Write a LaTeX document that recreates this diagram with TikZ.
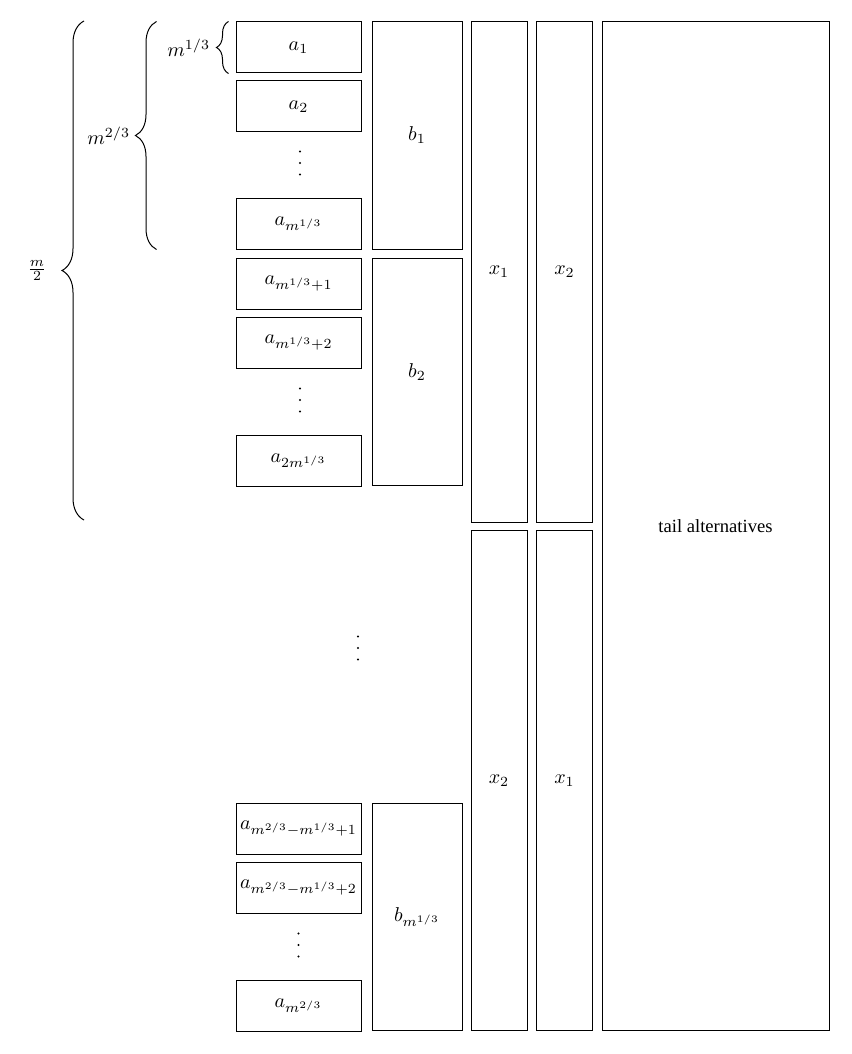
\documentclass[tikz,border=0pt]{standalone}
\usepackage{amsmath,amssymb}
\usepackage[no-math]{fontspec}
\setmainfont{Liberation Serif}
\usepackage{tikz}
\usetikzlibrary{positioning,decorations.pathreplacing}

\begin{document}
\begin{tikzpicture}[
			x=0.5pt, y=-0.5pt,
			every node/.style={font=\normalsize},
			every path/.style={line width=0.5pt},
			abox/.style={
				draw,
				inner sep=0pt,
				minimum width=62.5pt,
				minimum height=25.5pt
			},
			bbox/.style={draw, inner sep=0pt, minimum width=45pt, minimum height=113.75pt},
			xbox/.style={draw, inner sep=0pt, minimum width=28pt, minimum height=250pt},
			tailbox/.style={draw, inner sep=0pt, minimum width=113.5pt, minimum height=504pt,
				font=\fontsize{9.3}{11}\selectfont},
			cbrace/.style={decorate, decoration={brace, amplitude=#1}},
			countlabel/.style={inner sep=0pt}
			]
			
			\useasboundingbox (0,0) rectangle (851,1054);
			
			% ---- First block of a's ----
			\node[abox] (a1) at (298.5,47.5) {$a_1$};
			\node[abox, below=3.5pt of a1] (a2) {$a_2$};
			\coordinate (d1) at (300,163);
			\node[abox] (a3) at (298.5,223.5) {$a_{m^{1/3}}$};
			
			% ---- Second block of a's ----
			\node[abox, below=4pt of a3] (a4) {$a_{m^{1/3}+1}$};
			\node[abox, below=3.5pt of a4] (a5) {$a_{m^{1/3}+2}$};
			\coordinate (d2) at (300,400);
			\node[abox] (a6) at (298.5,460.5) {$a_{2m^{1/3}}$};
			
			% ---- Gap ----
			\coordinate (dmid) at (358,648);
			
			% ---- Last block of a's ----
			\node[abox] (a7) at (298.5,828.5) {$a_{m^{2/3}-m^{1/3}+1}$};
			\node[abox, below=3.5pt of a7] (a8) {$a_{m^{2/3}-m^{1/3}+2}$};
			\coordinate (d3) at (298.5,945);
			\node[abox] (a9) at (298.5,1005.5) {$a_{m^{2/3}}$};
			
			% ---- Vertical dots ----
			\foreach \c in {d1,d2,dmid,d3}
			\foreach \dy in {-11.5,0,11.5}
			\fill (\c) ++(0,\dy) circle (0.55pt);
			
			% ---- b column ----
			\node[bbox] (b1) at (417,135.5) {$b_1$};
			\node[bbox] (b2) at (417,372) {$b_2$};
			\node[bbox] (b3) at (417,917) {$b_{m^{1/3}}$};
			
			% ---- x columns ----
			\node[xbox] (xa1) at (499,272) {$x_1$};
			\node[xbox] (xa2) at (564.5,272) {$x_2$};
			\node[xbox] (xb2) at (499,780.5) {$x_2$};
			\node[xbox] (xb1) at (564.5,780.5) {$x_1$};
			
			% ---- Tail ----
			\node[tailbox] (tail) at (715.5,526) {tail alternatives};
			
			% ---- Braces ----
			\coordinate (halftop) at (84,21);
			\coordinate (halfbot) at (84,520);
			
			\draw[cbrace=6pt] ([xshift=-3.5pt]a1.south west) -- ([xshift=-3.5pt]a1.north west)
			node[countlabel, midway, left=9pt] (lone) {$m^{1/3}$};
			\draw[cbrace=10.5pt] ([xshift=-39.5pt]a3.south west) -- ([xshift=-39.5pt]a1.north west)
			node[countlabel, midway, left=13pt] (ltwo) {$m^{2/3}$};
			\draw[cbrace=11pt] (halfbot) -- (halftop)
			node[countlabel, midway, left=18.5pt] (lhalf) {$\frac{m}{2}$};
			
		\end{tikzpicture}
\end{document}
